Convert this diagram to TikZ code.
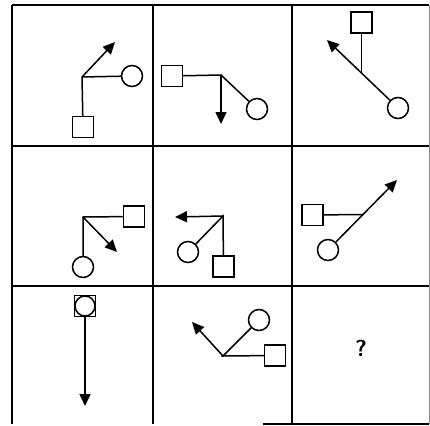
\documentclass[tikz,border=0pt]{standalone}
\usetikzlibrary{arrows.meta}
\tikzset{
    sq/.style={draw, line width=1.5pt, minimum size=21pt, inner sep=0pt},
    ring/.style={draw, circle, line width=1.5pt, minimum size=21pt, inner sep=0pt},
    gridline/.style={line width=1.8pt},
}
\begin{document}
\begin{tikzpicture}[x=1pt, y=-1pt, line width=1.5pt, >={Triangle[length=12pt,width=11pt]}]
        \useasboundingbox (0,0) rectangle (430,425);
        % grid
        \foreach \x in {12,153,292} {
            \draw[gridline] (\x,5) -- (\x,424);
        }
        \draw[line width=0.8pt, black!45] (429,5) -- (429,424);
        \foreach \y in {5,146,286} {
            \draw[gridline] (12,\y) -- (429,\y);
        }
        \draw[gridline] (263,424) -- (429,424);
        % row 1
        \coordinate (j1) at (82,77);
        \coordinate (a1) at (115,42);
        \node[ring] (c1) at (132,76) {};
        \node[sq] (s1) at (83,127) {};
        \draw (j1) -- (c1);
        \draw (j1) -- (s1);
        \draw[->] (j1) -- (a1);
        \node[sq] (s2) at (172,76) {};
        \coordinate (j2) at (221,75);
        \coordinate (a2) at (221,124);
        \node[ring] (c2) at (257,109) {};
        \draw (s2) -- (j2) -- (c2);
        \draw[->] (j2) -- (a2);
        \node[sq] (s3) at (361.5,22.5) {};
        \node[ring] (c3) at (398,108) {};
        \coordinate (j3) at (361.5,73);
        \coordinate (a3) at (327,40);
        \draw (s3) -- (j3);
        \draw[->] (c3) -- (a3);
        % row 2
        \coordinate (j4) at (83,217);
        \coordinate (a4) at (117,252);
        \node[sq] (s4) at (134,216.5) {};
        \node[ring] (c4) at (83,267) {};
        \draw (s4) -- (j4) -- (c4);
        \draw[->] (j4) -- (a4);
        \coordinate (j5) at (223,216);
        \coordinate (a5) at (175,217);
        \node[sq] (s5) at (223.5,266.5) {};
        \node[ring] (c5) at (188,252) {};
        \draw (c5) -- (j5) -- (s5);
        \draw[->] (j5) -- (a5);
        \node[sq] (s6) at (312.5,215) {};
        \node[ring] (c6) at (328,250) {};
        \coordinate (j6) at (363,214.5);
        \coordinate (a6) at (397,180);
        \draw (s6) -- (j6);
        \draw[->] (c6) -- (a6);
        % row 3
        \node[sq] (s7) at (85,306) {};
        \node[ring, minimum size=20pt] (c7) at (85,306) {};
        \coordinate (a7) at (85,406);
        \draw[->] (s7) -- (a7);
        \coordinate (j8) at (223,356);
        \coordinate (a8) at (192,322);
        \node[ring] (c8) at (259,320) {};
        \node[sq] (s8) at (275,355.5) {};
        \draw (c8) -- (j8) -- (s8);
        \draw[->] (j8) -- (a8);
        \node[font=\sffamily\bfseries\fontsize{23}{23}\selectfont] (q) at (361,348) {?};
    \end{tikzpicture}
\end{document}
